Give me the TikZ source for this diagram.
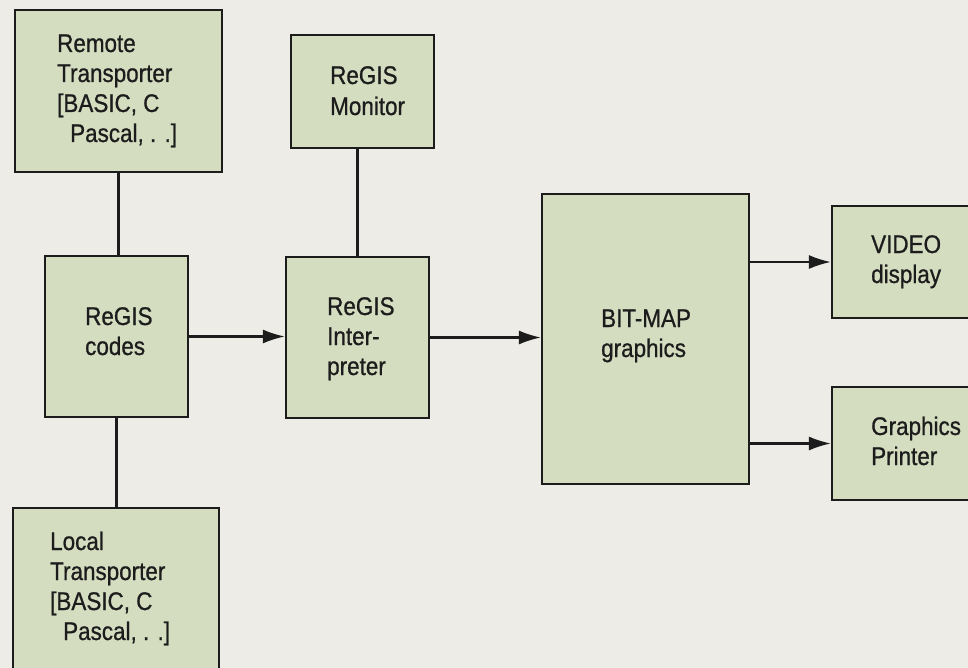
\documentclass[tikz,border=0pt]{standalone}
\usepackage{fontspec}
\setmainfont[FakeStretch=0.88,FakeBold=0.8]{Liberation Sans}
\usetikzlibrary{arrows.meta}
\definecolor{bg}{RGB}{238,236,231}
\definecolor{boxfill}{RGB}{213,221,192}
\definecolor{ink}{RGB}{28,28,28}
\tikzset{
  blk/.style={draw=ink, line width=2.2pt, fill=boxfill, inner sep=0pt},
  txt/.style={anchor=base west, inner sep=0pt, text=ink, font=\fontsize{25.5pt}{30pt}\selectfont},
  conn/.style={draw=ink, line width=2.1pt},
  arr/.style={conn, -{Latex[length=22pt,width=14pt]}},
}
\newcommand{\blkat}[5]{% name, x1, y1, x2, y2
  \node[blk, minimum width=#4pt-#2pt, minimum height=#5pt-#3pt] (#1) at ({(#2+#4)/2},{(#3+#5)/2}) {};}
\begin{document}
\begin{tikzpicture}[x=1pt,y=-1pt]
\clip (0,0) rectangle (968,668);
\fill[bg] (0,0) rectangle (968,668);

\blkat{remote}{15}{10}{222}{172}
\blkat{monitor}{291}{35}{434}{148}
\blkat{codes}{45}{256}{188}{417}
\blkat{interp}{286}{257}{429}{418}
\blkat{local}{13}{508}{219}{690}
\blkat{bitmap}{542}{194}{749}{484}
\blkat{video}{832}{206}{990}{318}
\blkat{printer}{832}{387}{990}{500}

\node[txt] (rt1) at (57,52) {Remote};
\node[txt] (rt2) at (57,82) {Transporter};
\node[txt] (rt3) at (57,112) {[BASIC, C};
\node[txt] (rt4) at (70,142) {Pascal, . .]};

\node[txt] (mo1) at (330,84) {ReGIS};
\node[txt] (mo2) at (330,115) {Monitor};

\node[txt] (co1) at (85,325) {ReGIS};
\node[txt] (co2) at (85,355) {codes};

\node[txt] (in1) at (327,315) {ReGIS};
\node[txt] (in2) at (327,345) {Inter-};
\node[txt] (in3) at (327,375) {preter};

\node[txt] (bm1) at (601,327) {BIT-MAP};
\node[txt] (bm2) at (601,357) {graphics};

\node[txt] (vi1) at (871,253) {VIDEO};
\node[txt] (vi2) at (871,283) {display};

\node[txt] (pr1) at (871,435) {Graphics};
\node[txt] (pr2) at (871,465) {Printer};

\node[txt] (lt1) at (50,550) {Local};
\node[txt] (lt2) at (50,580) {Transporter};
\node[txt] (lt3) at (50,610) {[BASIC, C};
\node[txt] (lt4) at (63,640) {Pascal, . .]};

\draw[conn] (remote.south) -- (remote.south |- codes.north);
\draw[conn] (codes.south) -- (codes.south |- local.north);
\draw[conn] (interp.north) -- (interp.north |- monitor.south);
\draw[arr] (codes.east) -- (codes.east -| interp.west);
\draw[arr] (interp.east) -- (interp.east -| bitmap.west);
\draw[arr] (bitmap.east |- video.west) -- (video.west);
\draw[arr] (bitmap.east |- printer.west) -- (printer.west);
\end{tikzpicture}
\end{document}
